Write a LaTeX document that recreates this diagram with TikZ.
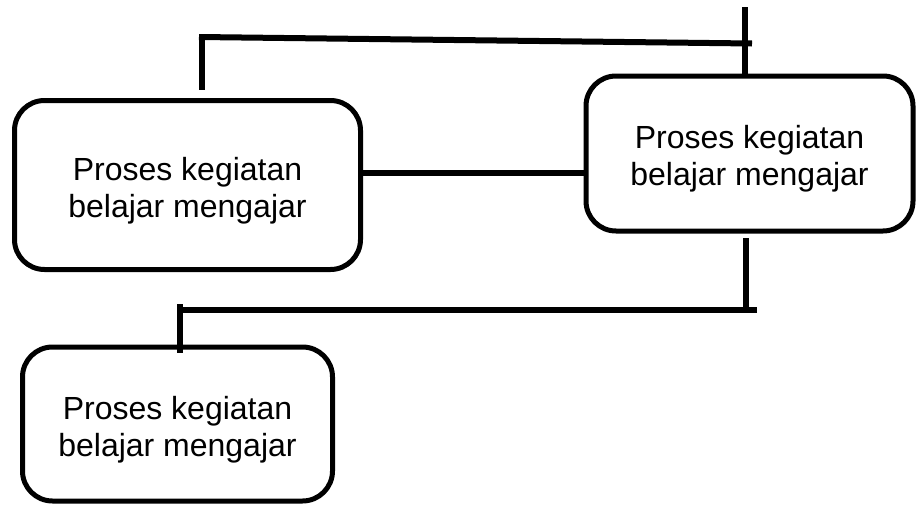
\documentclass[tikz,border=0pt]{standalone}
\usepackage{fontspec}
\setmainfont{Liberation Sans}
\begin{document}
\begin{tikzpicture}[x=1pt,y=-1pt]
	\tikzset{kotak/.style={draw,line width=5pt,rounded corners=30pt,align=center,inner sep=0pt,text height=71pt,font=\fontsize{32}{37}\selectfont},
		garis/.style={line width=6pt}}
	\useasboundingbox (0,0) rectangle (916,506);
	
	\node[kotak,minimum width=346pt,minimum height=169pt] (KA) at (187.5,185) {Proses kegiatan\\belajar mengajar};
	\node[kotak,minimum width=327pt,minimum height=155pt] (KB) at (749.5,153.5) {Proses kegiatan\\belajar mengajar};
	\node[kotak,minimum width=310pt,minimum height=154pt] (KC) at (177.5,424) {Proses kegiatan\\belajar mengajar};
	
	\coordinate (TA) at (745,7);
	\coordinate (TB) at (199,37);
	\coordinate (TC) at (752,43.5);
	\coordinate (TD) at (202,90);
	\coordinate (MA) at (0,173);
	\coordinate (BA) at (745.5,238);
	\coordinate (BB) at (757,309.5);
	\coordinate (BC) at (183,309.5);
	\coordinate (BD) at (180,304);
	\coordinate (BE) at (180,353);
	
	\draw[garis] (TA)--(TA|-KB.north);
	\draw[garis] (TB)--(TC);
	\draw[garis] (TD|-TB)--(TD);
	\draw[garis] (KA.east|-MA)--(KB.west|-MA);
	\draw[garis] (BA)--(BA|-BB);
	\draw[garis] (BB)--(BC);
	\draw[garis] (BD)--(BE);
\end{tikzpicture}
\end{document}
